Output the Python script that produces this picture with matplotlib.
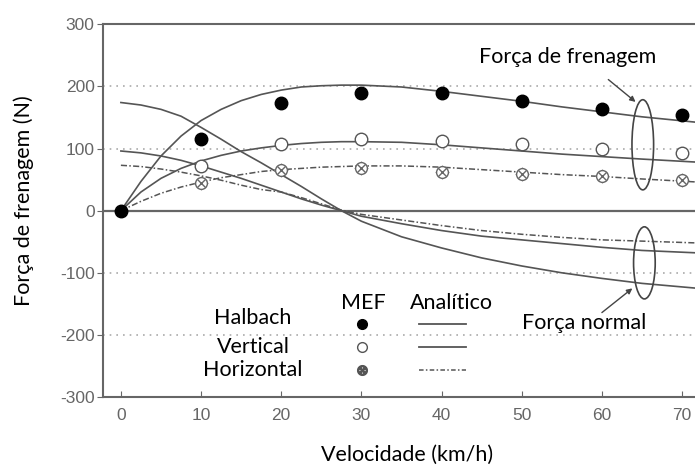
import matplotlib
matplotlib.use("Agg")
import matplotlib.pyplot as plt
from matplotlib.patches import Ellipse
from matplotlib.lines import Line2D

plt.rcParams['axes.unicode_minus'] = False

# MEF (simulation) points
vel_mef = [0, 10, 20, 30, 40, 50, 60, 70]
halbach_mef = [0, 115, 173, 190, 189, 177, 164, 154]
vertical_mef = [0, 72, 107, 115, 112, 107, 99, 93]
horizontal_mef = [0, 44, 65, 68, 63, 59, 56, 49]

# analytic curves
vel_an = [0, 2.5, 5, 7.5, 10, 12.5, 15, 17.5, 20, 22.5, 25, 27.5, 30, 35,
          40, 45, 50, 55, 60, 65, 72]
halbach_fren = [0, 47, 88, 120, 145, 163, 177, 187, 194, 199, 201, 202, 202, 199,
                192, 184, 176, 167, 159, 151, 142]
vertical_fren = [0, 30, 52, 68, 80, 89, 96, 101, 105, 108, 110, 111, 111, 110,
                 106, 101, 96, 91, 87, 83, 78]
horizontal_fren = [0, 15, 28, 38, 46, 53, 58, 63, 66, 68, 70, 71, 72, 72,
                   70, 66, 62, 58, 55, 51, 46]
halbach_norm = [174, 170, 163, 152, 134, 115, 95, 77, 58, 39, 19, 0, -17, -42,
                -60, -76, -89, -100, -109, -117, -125]
vertical_norm = [96, 93, 88, 81, 72, 62, 52, 41, 30, 19, 9, 0, -9, -21,
                 -32, -41, -47, -53, -59, -64, -68]
horizontal_norm = [73, 71, 67, 62, 56, 49, 41, 34, 30, 21, 11, 1, -6, -15,
                   -24, -32, -38, -43, -47, -49, -52]

xticks = [0, 10, 20, 30, 40, 50, 60, 70]
yticks = [-300, -200, -100, 0, 100, 200, 300]

gray = '#555555'
txt_font = 'Lato'
fs = 15.5

fig = plt.figure(figsize=(6.95, 4.75), dpi=100)
ax = fig.add_axes([0.148, 0.164, 0.868, 0.785])

for g in [-200, -100, 100, 200]:
    ax.axhline(g, color='#aaaaaa', lw=1.2, ls=(0, (1, 3)), zorder=0)
ax.axhline(0, color='#666666', lw=1.6, zorder=1)

dashdot = (0, (4, 1.5, 1, 1.5))
ax.plot(vel_an, halbach_fren, color=gray, lw=1.2)
ax.plot(vel_an, vertical_fren, color=gray, lw=1.2)
ax.plot(vel_an, horizontal_fren, color=gray, lw=1.1, ls=dashdot)
ax.plot(vel_an, halbach_norm, color=gray, lw=1.2)
ax.plot(vel_an, vertical_norm, color=gray, lw=1.2)
ax.plot(vel_an, horizontal_norm, color=gray, lw=1.1, ls=dashdot)

ax.plot(vel_mef[1:], horizontal_mef[1:], ls='none', marker='o', ms=8.5,
        mfc='white', mec='#666666', mew=1.0, zorder=4)
ax.plot(vel_mef[1:], horizontal_mef[1:], ls='none', marker='x', ms=6,
        mec='#666666', mew=1.0, zorder=5)
ax.plot(vel_mef[1:], horizontal_mef[1:], ls='none', marker='+', ms=10,
        mec='#999999', mew=0.8, zorder=3)
ax.plot(vel_mef[1:], vertical_mef[1:], ls='none', marker='o', ms=9,
        mfc='white', mec='#555555', mew=1.0, zorder=4)
ax.plot(vel_mef, halbach_mef, ls='none', marker='o', ms=9,
        mfc='black', mec='black', zorder=6)

ax.set_xlim(-2.25, 73)
ax.set_ylim(-300, 300)
ax.set_xticks(xticks)
ax.set_yticks(yticks)
for s in ['left', 'bottom', 'top', 'right']:
    ax.spines[s].set_color('#666666')
    ax.spines[s].set_linewidth(1.5)
ax.tick_params(axis='x', direction='in', length=4, color='#666666',
               labelcolor='#666666', labelsize=12.5, pad=8)
ax.tick_params(axis='y', direction='out', length=4, color='#666666',
               labelcolor='#666666', labelsize=12.5, pad=2)
for lab in ax.get_xticklabels() + ax.get_yticklabels():
    lab.set_family('Liberation Sans')

ax.set_ylabel('Força de frenagem (N)', family=txt_font, fontsize=fs, va='center')
ax.set_xlabel('Velocidade (km/h)', family=txt_font, fontsize=fs, va='center')
ax.yaxis.set_label_coords(-0.131, 0.528)
ax.xaxis.set_label_coords(0.504, -0.155)

# legend keys
handles = [
    Line2D([], [], ls='none', marker='o', ms=7, mfc='black', mec='black'),
    Line2D([], [], ls='none', marker='o', ms=7, mfc='white', mec=gray),
    Line2D([], [], ls='none', marker='$\\otimes$', ms=7, color=gray),
    Line2D([], [], color=gray, lw=1.3),
    Line2D([], [], color=gray, lw=1.3),
    Line2D([], [], color=gray, lw=1.1, ls=(0, (3, 1.5, 1, 1.5))),
]
leg = ax.legend(handles, [''] * 6, ncol=2, frameon=False, fontsize=12,
                handlelength=2.8, handletextpad=0, columnspacing=2.0,
                labelspacing=0.28, borderpad=0, borderaxespad=0,
                loc='upper left', bbox_to_anchor=(27.2, -170),
                bbox_transform=ax.transData)

ax.text(30.2, -148, 'MEF', ha='center', va='center', family=txt_font, fontsize=fs)
ax.text(41.2, -148, 'Analítico', ha='center', va='center', family=txt_font, fontsize=fs)
for yy, name in zip([-173, -219, -257], ['Halbach', 'Vertical', 'Horizontal']):
    ax.text(16.5, yy, name, ha='center', va='center', family=txt_font, fontsize=fs)

# ellipses and notes
ax.add_patch(Ellipse((65.1, 106), 2.7, 145, fill=False, ec='#444444', lw=1.2, zorder=7))
ax.add_patch(Ellipse((65.3, -84), 2.7, 116, fill=False, ec='#444444', lw=1.2, zorder=7))
arrow = dict(arrowstyle='-|>', color='#444444', lw=1.0, shrinkA=0, shrinkB=0,
             mutation_scale=8)
ax.text(55.7, 247, 'Força de frenagem', ha='center', va='center',
        family=txt_font, fontsize=fs)
ax.annotate('', xy=(64.2, 175), xytext=(60.8, 211), arrowprops=arrow)
ax.text(57.8, -180, 'Força normal', ha='center', va='center',
        family=txt_font, fontsize=fs)
ax.annotate('', xy=(63.8, -125), xytext=(60.0, -164), arrowprops=arrow)

fig.savefig('out.png', dpi=100)
